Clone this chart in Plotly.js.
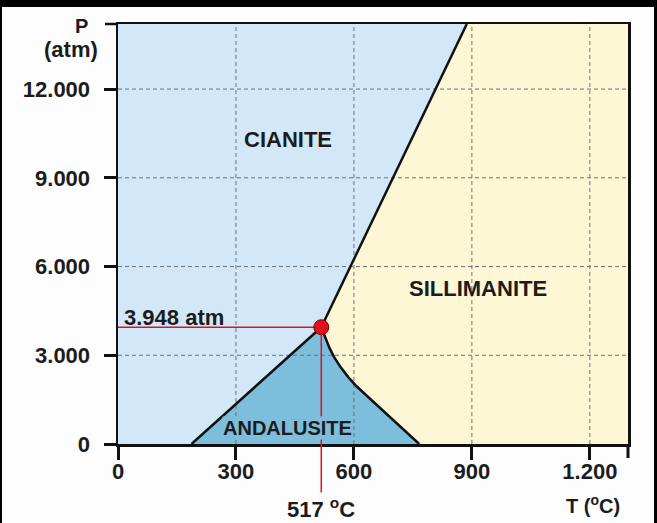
<!DOCTYPE html>
<html>
<head>
<meta charset="utf-8">
<script src="https://cdn.plot.ly/plotly-3.0.1.min.js"></script>
<style>
  html, body { margin: 0; padding: 0; background: #000; }
  #wrap { position: relative; width: 657px; height: 523px; background: #000; overflow: hidden; }
  #chart { position: absolute; left: 2px; top: 7px; width: 652px; height: 516px; }
</style>
</head>
<body>
<div id="wrap"><div id="chart"></div></div>
<script>
// ---- data ----
const T_ticks = [0, 300, 600, 900, 1200];
const T_labels = ['0', '300', '600', '900', '1.200'];
const P_ticks = [0, 3000, 6000, 9000, 12000];
const P_labels = ['0', '3.000', '6.000', '9.000', '12.000'];
const T_range = [0, 1297];
const P_range = [0, 14200];

const tripleT = 517;
const tripleP = 3948;

// Kyanite–Andalusite boundary (straight)
const kaT = [187, 517];
const kaP = [0, 3948];
// Andalusite–Sillimanite boundary (curved)
const asT = [517, 528, 538, 550, 566, 585, 606, 632, 663, 695, 729, 766];
const asP = [3948, 3570, 3240, 2930, 2600, 2270, 1960, 1640, 1265, 885, 475, 0];
// Kyanite–Sillimanite boundary (straight)
const ksT = [517, 887];
const ksP = [3948, 14200];

const regionNames = ['CIANITE', 'SILLIMANITE', 'ANDALUSITE'];
const regionLabelT = [432, 916, 430];
const regionLabelP = [10311, 5274, 541];

// ---- colours ----
const cKy = '#d2e8f9';
const cSi = '#fdf7d6';
const cAn = '#7cbedb';
const cRed = '#e3101c';
const txt = '#1c1c1c';
const FONT = 'Liberation Sans, Arial, Helvetica, sans-serif';

// ---- region polygons built from boundaries ----
const kyX = [T_range[0]].concat(kaT, ksT.slice(1), [T_range[0]]);
const kyY = [P_range[0]].concat(kaP, ksP.slice(1), [P_range[1]]);

const siX = asT.slice().reverse().concat(ksT.slice(1), [T_range[1], T_range[1]]);
const siY = asP.slice().reverse().concat(ksP.slice(1), [P_range[1], P_range[0]]);

const anX = kaT.concat(asT.slice(1));
const anY = kaP.concat(asP.slice(1));

// gridlines (drawn above fills)
const gvX = [], gvY = [], ghX = [], ghY = [];
T_ticks.slice(1).forEach(t => { gvX.push(t, t, null); gvY.push(P_range[0], P_range[1], null); });
P_ticks.slice(1).forEach(p => { ghX.push(T_range[0], T_range[1], null); ghY.push(p, p, null); });

const traces = [
  {x: kyX, y: kyY, type: 'scatter', mode: 'lines', fill: 'toself', fillcolor: cKy, line: {width: 0}, hoverinfo: 'skip'},
  {x: siX, y: siY, type: 'scatter', mode: 'lines', fill: 'toself', fillcolor: cSi, line: {width: 0}, hoverinfo: 'skip'},
  {x: anX, y: anY, type: 'scatter', mode: 'lines', fill: 'toself', fillcolor: cAn, line: {width: 0}, hoverinfo: 'skip'},
  {x: gvX, y: gvY, type: 'scatter', mode: 'lines', line: {color: '#707070', width: 1, dash: '4px,3px'}, hoverinfo: 'skip'},
  {x: ghX, y: ghY, type: 'scatter', mode: 'lines', line: {color: '#707070', width: 1, dash: '4px,3px'}, hoverinfo: 'skip'},
  {x: kaT, y: kaP, type: 'scatter', mode: 'lines', line: {color: '#111', width: 2.5}, hoverinfo: 'skip'},
  {x: asT, y: asP, type: 'scatter', mode: 'lines', line: {color: '#111', width: 2.5}, hoverinfo: 'skip'},
  {x: ksT, y: ksP, type: 'scatter', mode: 'lines', line: {color: '#111', width: 2.5}, hoverinfo: 'skip'},
  {x: [0, tripleT], y: [tripleP, tripleP], type: 'scatter', mode: 'lines', line: {color: cRed, width: 1.5}, hoverinfo: 'skip'},
  {x: [tripleT], y: [tripleP], type: 'scatter', mode: 'markers',
   marker: {size: 15, color: cRed, line: {color: '#7a0000', width: 1}}, cliponaxis: false, hoverinfo: 'skip'}
];

const tickFont = {family: FONT, size: 22, color: txt, weight: 'bold'};

const annotations = [
  // vertical red line from point down through the axis, with "517 °C" label at its foot
  {x: tripleT, y: tripleP, xref: 'x', yref: 'y', ax: tripleT, ay: -2164, axref: 'x', ayref: 'y',
   text: tripleT + ' <sup>o</sup>C', showarrow: true, arrowhead: 0, arrowwidth: 1.5, arrowcolor: cRed,
   standoff: 7, font: {family: FONT, size: 22, color: txt, weight: 'bold'}},
  {x: 10, y: 4293, xref: 'x', yref: 'y', xanchor: 'left', yanchor: 'middle', showarrow: false,
   text: (tripleP / 1000).toFixed(3) + ' atm', font: {family: FONT, size: 22, color: txt, weight: 'bold'}},
  {x: -0.0725, y: 0.995, xref: 'paper', yref: 'paper', xanchor: 'center', yanchor: 'middle', showarrow: false,
   text: 'P', font: {family: FONT, size: 20, color: txt, weight: 'bold'}},
  {x: -0.093, y: 0.939, xref: 'paper', yref: 'paper', xanchor: 'center', yanchor: 'middle', showarrow: false,
   text: '(atm)', font: {family: FONT, size: 22, color: txt, weight: 'bold'}},
  {x: 1208, y: -0.145, xref: 'x', yref: 'paper', xanchor: 'center', yanchor: 'middle', showarrow: false,
   text: 'T (<sup>o</sup>C)', font: {family: FONT, size: 20, color: txt, weight: 'bold'}}
];
regionNames.forEach((n, i) => {
  annotations.push({x: regionLabelT[i], y: regionLabelP[i], xref: 'x', yref: 'y', showarrow: false,
    text: n, bgcolor: i === 2 ? cAn : 'rgba(0,0,0,0)', borderpad: 0,
    font: {family: FONT, size: i === 2 ? 20 : 22, color: txt, weight: 'bold'}});
});

const layout = {
  width: 652, height: 516,
  margin: {l: 116, r: 26, t: 17, b: 79, pad: 0},
  paper_bgcolor: '#fdfdfd',
  plot_bgcolor: '#fdfdfd',
  showlegend: false,
  xaxis: {
    range: T_range, tickmode: 'array', tickvals: T_ticks, ticktext: T_labels,
    ticks: 'outside', ticklen: 13, tickwidth: 3, tickcolor: '#111',
    showline: true, linewidth: 2.5, linecolor: '#111', mirror: true,
    showgrid: false, zeroline: false, tickfont: tickFont, ticklabelstandoff: -7, fixedrange: true
  },
  yaxis: {
    range: P_range, tickmode: 'array', tickvals: P_ticks, ticktext: P_labels,
    ticks: 'outside', ticklen: 12, tickwidth: 3, tickcolor: '#111',
    showline: true, linewidth: 2.5, linecolor: '#111', mirror: true,
    showgrid: false, zeroline: false, tickfont: tickFont, ticklabelstandoff: 9, fixedrange: true
  },
  shapes: [
    {type: 'line', xref: 'paper', yref: 'paper', x0: -13 / 510, x1: 0, y0: 1, y1: 1, line: {color: '#111', width: 2.5}},
    {type: 'line', xref: 'paper', yref: 'paper', x0: 1, x1: 1, y0: -14 / 420, y1: 0, line: {color: '#111', width: 3}}
  ],
  annotations: annotations
};

Plotly.newPlot('chart', traces, layout, {displayModeBar: false, staticPlot: true});
</script>
</body>
</html>
